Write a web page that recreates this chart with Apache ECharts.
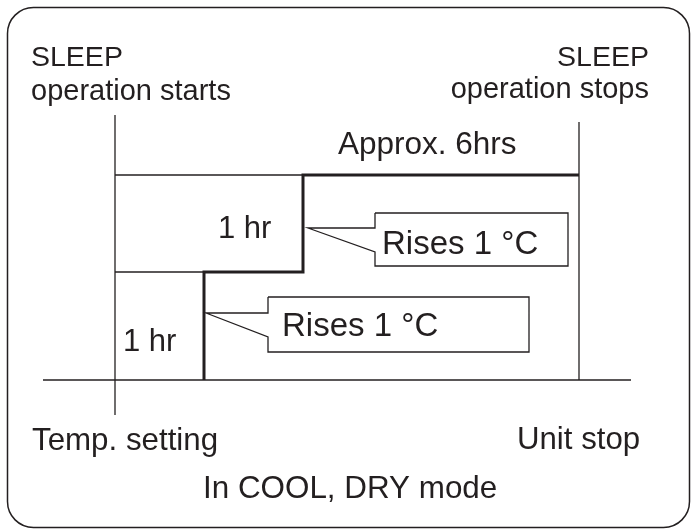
<!DOCTYPE html>
<html>
<head>
<meta charset="utf-8">
<script src="https://cdn.jsdelivr.net/npm/echarts@6/dist/echarts.min.js"></script>
<style>
  html, body { margin: 0; padding: 0; background: #fff; }
  #main { width: 691px; height: 530px; }
</style>
</head>
<body>
<div id="main"></div>
<script>
// diagram units: x = distance right of the "operation starts" line, y = height above the baseline
var startLine = [[0, 265], [0, -35]];
var stopLine = [[464, 258], [464, 0]];
var baseLine = [[-72, 0], [516, 0]];
var hourLine1 = [[0, 108], [89, 108]];
var hourLine2 = [[0, 205], [188, 205]];
var tempStep = [[89, 0], [89, 108], [188, 108], [188, 205], [464, 205]];
var callout1 = [[260, 167], [453, 167], [453, 114], [260, 114], [260, 128], [193, 152], [260, 152], [260, 167]];
var callout2 = [[153, 83], [414, 83], [414, 28], [153, 28], [153, 43], [91, 67], [153, 67], [153, 83]];

var labelTexts = ['SLEEP', 'operation starts', 'SLEEP', 'operation stops', 'Approx. 6hrs',
  '1 hr', '1 hr', 'Rises 1 °C', 'Rises 1 °C', 'Temp. setting', 'Unit stop', 'In COOL, DRY mode'];
// baseline anchor of each label, same diagram units
var labelAnchors = [[-84, 315], [-84, 281], [534, 315], [534, 283], [223, 227],
  [103, 143], [8, 30], [267, 127], [167, 45], [-83, -69], [402, -68], [88, -117]];
var labelAligns = ['left', 'left', 'right', 'right', 'left',
  'left', 'left', 'left', 'left', 'left', 'left', 'left'];
var labelSizes = [28.5, 29, 28.5, 29, 31.5, 31, 31, 33, 33, 31.3, 31.2, 31.4];

var ink = '#231f20';
var chart = echarts.init(document.getElementById('main'));

function seg(name, data, width) {
  return {
    name: name,
    type: 'line',
    data: data,
    symbol: 'none',
    clip: false,
    silent: true,
    lineStyle: { color: ink, width: width, join: 'miter', cap: 'butt' }
  };
}

chart.setOption({
  animation: false,
  backgroundColor: '#fff',
  grid: { left: 0, right: 0, top: 0, bottom: 0 },
  xAxis: { type: 'value', min: -115, max: 576, show: false },
  yAxis: { type: 'value', min: -150, max: 380, show: false },
  series: [
    seg('start', startLine, 1.3),
    seg('stop', stopLine, 1.3),
    seg('base', baseLine, 1.5),
    seg('hr1', hourLine1, 1.3),
    seg('hr2', hourLine2, 1.3),
    seg('step', tempStep, 3),
    seg('callout1', callout1, 1.3),
    seg('callout2', callout2, 1.3)
  ]
});

// texts are placed through the grid's own scale
var texts = labelTexts.map(function (t, i) {
  var p = chart.convertToPixel({ gridIndex: 0 }, labelAnchors[i]);
  var fs = labelSizes[i];
  return {
    type: 'text',
    x: p[0],
    y: p[1] - 0.24 * fs,
    silent: true,
    style: {
      text: t,
      fill: ink,
      font: fs + 'px "Liberation Sans", Arial, sans-serif',
      align: labelAligns[i],
      verticalAlign: 'middle'
    }
  };
});

chart.setOption({
  graphic: [{
    type: 'rect',
    silent: true,
    shape: { x: 7.5, y: 7.5, width: 682, height: 520, r: 26 },
    style: { fill: 'none', stroke: ink, lineWidth: 1.5 }
  }].concat(texts)
});
</script>
</body>
</html>
